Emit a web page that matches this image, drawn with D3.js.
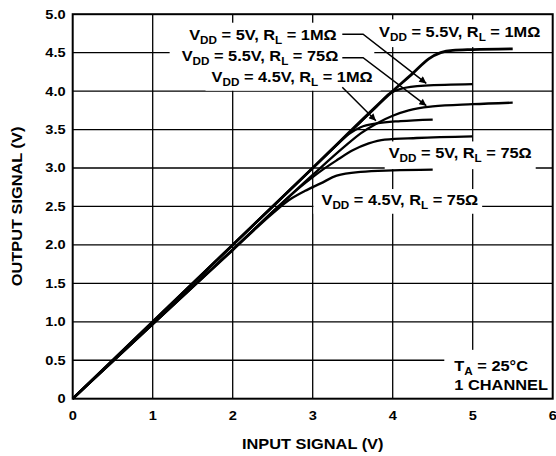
<!DOCTYPE html>
<html>
<head>
<meta charset="utf-8">
<script src="https://cdn.jsdelivr.net/npm/d3@7"></script>
<style>
  body { margin: 0; background: #fff; }
  text { font-family: "Liberation Sans", Arial, Helvetica, sans-serif; font-weight: bold; fill: #000; }
</style>
</head>
<body>
<svg id="chart" width="556" height="456"></svg>
<script>
// tick values
const xTicks = [0, 1, 2, 3, 4, 5, 6];
const yTicks = [0, 0.5, 1.0, 1.5, 2.0, 2.5, 3.0, 3.5, 4.0, 4.5, 5.0];

// curves, [input, output]
const vdd55_1M = [[0,0],[1,1],[2,2],[3,3],[4,4],[4.25,4.23],[4.45,4.42],[4.6,4.5],[4.75,4.53],[5,4.54],[5.5,4.55]];
const vdd5_1M = [[0,0],[1,1],[2,2],[3,3],[3.6,3.6],[3.8,3.8],[3.95,3.96],[4.1,4.03],[4.4,4.07],[5,4.09]];
const vdd45_1M = [[0,0],[1,1],[2,2],[3,3],[3.3,3.3],[3.45,3.44],[3.6,3.53],[3.8,3.58],[4.1,3.61],[4.5,3.63]];
const vdd55_75 = [[0,0],[1,0.97],[2,1.94],[3,2.91],[3.4,3.28],[3.6,3.45],[3.8,3.58],[4,3.68],[4.2,3.75],[4.5,3.8],[5,3.83],[5.5,3.85]];
const vdd5_75 = [[0,0],[1,0.97],[2,1.94],[2.9,2.8],[3.1,2.96],[3.3,3.1],[3.5,3.23],[3.7,3.32],[3.9,3.37],[4.3,3.39],[5,3.41]];
const vdd45_75 = [[0,0],[1,0.97],[2,1.93],[2.5,2.41],[2.7,2.58],[2.9,2.7],[3.1,2.8],[3.3,2.9],[3.6,2.95],[4,2.97],[4.5,2.98]];

// labels: [vdd, rl, x, y, anchor]
const labels = [
	["5V", "1M\u03A9", 3.30, 4.67, "end"],
	["5.5V", "75\u03A9", 3.32, 4.395, "end"],
	["4.5V", "1M\u03A9", 3.75, 4.12, "end"],
	["5.5V", "1M\u03A9", 3.83, 4.70, "start"],
	["5V", "75\u03A9", 3.95, 3.126, "start"],
	["4.5V", "75\u03A9", 3.11, 2.52, "start"]
];
// leader lines with arrow at the end
const leaders = [
	[[3.37, 4.74], [3.63, 4.74], [4.42, 4.10]],
	[[3.37, 4.435], [3.63, 4.435], [4.42, 3.81]],
	[[3.37, 4.05], [3.79, 3.615]]
];

const SX = 1.17; // glyphs in the picture are wider than Liberation Sans

const svg = d3.select("#chart");
const x = d3.scaleLinear().domain([0, 6]).range([72.7, 552.7]);
const y = d3.scaleLinear().domain([0, 5]).range([398.7, 14.2]);

// grid
const grid = svg.append("g").attr("stroke", "#000").attr("stroke-width", 1.3);
grid.selectAll(".vg").data(xTicks.slice(1, -1)).join("line")
	.attr("x1", d => x(d)).attr("x2", d => x(d))
	.attr("y1", y(0)).attr("y2", y(5));
grid.selectAll(".hg").data(yTicks.slice(1, -1)).join("line")
	.attr("y1", d => y(d)).attr("y2", d => y(d))
	.attr("x1", x(0)).attr("x2", x(6));

const boxLayer = svg.append("g");
const curveLayer = svg.append("g");
const textLayer = svg.append("g");

function placeText(parent, px, py, anchor, size, rotate) {
	const g = parent.append("g")
		.attr("transform", `translate(${px},${py})` + (rotate ? " rotate(-90)" : "") + ` scale(${SX},1)`);
	return g.append("text").attr("text-anchor", anchor).attr("font-size", size);
}

// tick labels
xTicks.forEach(t => {
	placeText(textLayer, x(t), 420, "middle", 12.5).text(t);
});
yTicks.forEach(t => {
	placeText(textLayer, 65.7, y(t) + 4.4, "end", 12.5).text(t === 0 ? "0" : d3.format(".1f")(t));
});

// axis titles
placeText(textLayer, x(3), 449, "middle", 14).text("INPUT SIGNAL (V)");
placeText(textLayer, 21.7, y(2.5), "middle", 14, true).text("OUTPUT SIGNAL (V)");

// white box behind a text, with padding [left, top, right, bottom]
function knockout(node, pad) {
	const b = node.getBoundingClientRect();
	boxLayer.append("rect")
		.attr("x", b.left - pad[0]).attr("y", b.top - pad[1])
		.attr("width", b.width + pad[0] + pad[2])
		.attr("height", b.height + pad[1] + pad[3])
		.attr("fill", "#fff");
}

// curve labels
const pads = [[4, 4, 32, 3], [12, 3, 36, 3], [6, 3, 8, 3], [4, 5, 4, 4], [4, 4, 4, 5], [8, 3, 4, 3]];
labels.forEach((l, i) => {
	const t = placeText(textLayer, x(l[2]), y(l[3]), l[4], 14);
	t.append("tspan").text("V");
	t.append("tspan").attr("font-size", 10).attr("dy", 4).text("DD");
	t.append("tspan").attr("dy", -4).text(` = ${l[0]}, R`);
	t.append("tspan").attr("font-size", 10).attr("dy", 4).text("L");
	t.append("tspan").attr("dy", -4).text(` = ${l[1]}`);
	knockout(t.node(), pads[i]);
});

// TA note
const ta = placeText(textLayer, x(4.77), y(0.364), "start", 14);
ta.append("tspan").text("T");
ta.append("tspan").attr("font-size", 10).attr("dy", 4).text("A");
ta.append("tspan").attr("dy", -4).text(" = 25\u00B0C");
placeText(textLayer, x(4.77), y(0.113), "start", 14).text("1 CHANNEL");
{
	const b1 = ta.node().getBoundingClientRect();
	boxLayer.append("rect")
		.attr("x", b1.left - 10).attr("y", b1.top - 8)
		.attr("width", x(6) - b1.left + 10).attr("height", y(0) - b1.top + 8)
		.attr("fill", "#fff");
}

// curves
const line = d3.line().x(d => x(d[0])).y(d => y(d[1])).curve(d3.curveMonotoneX);
const series = [vdd55_1M, vdd5_1M, vdd45_1M, vdd55_75, vdd5_75, vdd45_75];
curveLayer.selectAll("path").data(series).join("path")
	.attr("d", line)
	.attr("fill", "none").attr("stroke", "#000")
	.attr("stroke-width", (d, i) => i === 0 ? 2.8 : 2.3).attr("stroke-linejoin", "round");

// arrows
svg.append("defs").append("marker")
	.attr("id", "arrow").attr("viewBox", "0 0 10 10")
	.attr("refX", 10).attr("refY", 5)
	.attr("markerWidth", 11).attr("markerHeight", 7)
	.attr("markerUnits", "userSpaceOnUse")
	.attr("orient", "auto")
	.append("path").attr("d", "M0,0 L10,5 L0,10 Z").attr("fill", "#000");

const leaderLine = d3.line().x(d => x(d[0])).y(d => y(d[1]));
svg.append("g").selectAll("path").data(leaders).join("path")
	.attr("d", leaderLine)
	.attr("fill", "none").attr("stroke", "#000").attr("stroke-width", 1.5)
	.attr("marker-end", "url(#arrow)");

// frame
svg.append("rect")
	.attr("x", x(0)).attr("y", y(5))
	.attr("width", x(6) - x(0)).attr("height", y(0) - y(5))
	.attr("fill", "none").attr("stroke", "#000").attr("stroke-width", 2);
</script>
</body>
</html>
